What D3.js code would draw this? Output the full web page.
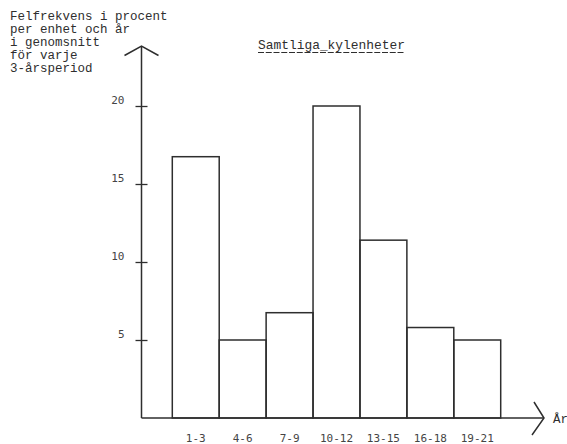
<!DOCTYPE html>
<html><head><meta charset="utf-8">
<script src="https://cdn.jsdelivr.net/npm/d3@7"></script>
<style>body{margin:0;background:#fff}svg{display:block}</style>
</head><body><svg id="c" width="567" height="444"></svg>
<script>
const categories = ["1-3","4-6","7-9","10-12","13-15","16-18","19-21"];
const values = [16.75, 5.0, 6.75, 20.0, 11.4, 5.8, 5.0];
const yTicks = [5, 10, 15, 20];
const yTitleLines = ["Felfrekvens i procent","per enhet och år","i genomsnitt","för varje","3-årsperiod"];
const chartTitle = "Samtliga_kylenheter";
const xTitle = "År";

const ink = "#2e2e2e";
const svg = d3.select("#c");
const y = d3.scaleLinear().domain([0, 20]).range([418, 106]);
const x = d3.scaleBand().domain(categories).range([172.3, 500.7]).padding(0);
const axisX = 141.5;

// bars
svg.append("g").selectAll("rect").data(values).join("rect")
  .attr("x", (d,i) => x(categories[i]))
  .attr("y", d => y(d))
  .attr("width", x.bandwidth())
  .attr("height", d => y(0) - y(d))
  .attr("fill", "none").attr("stroke", ink).attr("stroke-width", 1.5);

// y axis line with arrow
const yTop = 46;
svg.append("line").attr("x1", axisX).attr("x2", axisX).attr("y1", y(0)).attr("y2", yTop)
  .attr("stroke", ink).attr("stroke-width", 1.5);
svg.append("path").attr("d", `M${axisX-17},${yTop+9.5}L${axisX},${yTop}L${axisX+17},${yTop+9.5}`)
  .attr("fill","none").attr("stroke", ink).attr("stroke-width", 1.5);

// x axis line with arrow
const xEnd = 544;
svg.append("line").attr("x1", axisX).attr("x2", xEnd).attr("y1", y(0)).attr("y2", y(0))
  .attr("stroke", ink).attr("stroke-width", 1.5);
svg.append("path").attr("d", `M${xEnd-10},${y(0)-16}L${xEnd},${y(0)}L${xEnd-12},${y(0)+17}`)
  .attr("fill","none").attr("stroke", ink).attr("stroke-width", 1.5);

// y ticks via d3 axis
const yAxis = d3.axisLeft(y).tickValues(yTicks).tickSize(0).tickFormat(d3.format("d"));
const gy = svg.append("g").attr("transform", `translate(${axisX},0)`).call(yAxis);
gy.select(".domain").remove();
gy.selectAll(".tick line").attr("x1", -6).attr("x2", 6).attr("stroke", ink).attr("stroke-width", 1.3);
gy.selectAll(".tick text").attr("x", -17).attr("dy", "-2.6")
  .attr("font-family", "'DejaVu Sans Mono', monospace").attr("font-size", 11).attr("fill", "#444");

// x labels via d3 axis
const xAxis = d3.axisBottom(x).tickSize(0);
const gx = svg.append("g").attr("transform", `translate(0,${y(0)})`).call(xAxis);
gx.select(".domain").remove();
gx.selectAll(".tick text").attr("y", 24).attr("dy", 0)
  .attr("font-family", "'DejaVu Sans Mono', monospace").attr("font-size", 11).attr("fill", "#444");

// y title
svg.append("g").selectAll("text").data(yTitleLines).join("text")
  .attr("x", 10).attr("y", (d,i) => 19.5 + i*13)
  .attr("font-family", "'Liberation Mono', monospace").attr("font-size", 12.5)
  .attr("fill", ink).text(d => d);

// chart title with typed underline
svg.append("text").attr("x", 258).attr("y", 49)
  .attr("font-family", "'Liberation Mono', monospace").attr("font-size", 12.9)
  .attr("fill", ink).text(chartTitle);
svg.append("line").attr("x1", 258).attr("x2", 405).attr("y1", 52.5).attr("y2", 52.5)
  .attr("stroke", ink).attr("stroke-width", 1).attr("stroke-dasharray", "6 1.75");

// x title
svg.append("text").attr("x", 553).attr("y", 422.5)
  .attr("font-family", "'Liberation Mono', monospace").attr("font-size", 12.5)
  .attr("fill", ink).text(xTitle);
</script></body></html>
